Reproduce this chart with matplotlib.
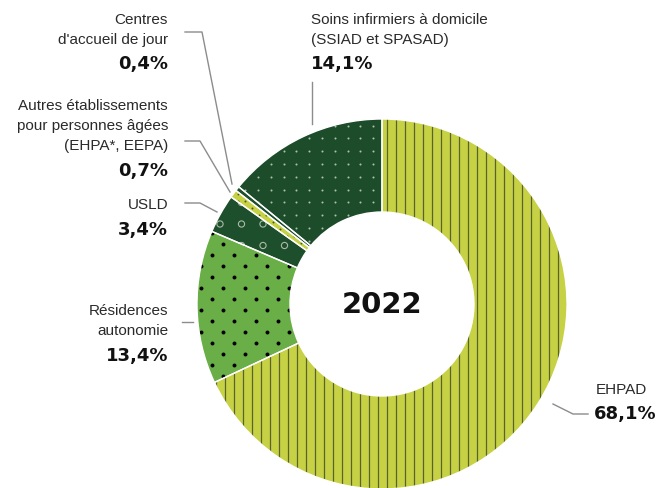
import numpy as np
import matplotlib.pyplot as plt

plt.rcParams['font.family'] = ['Liberation Sans', 'DejaVu Sans']

# slices, clockwise from 12 o'clock
categories = ["EHPAD", "Résidences autonomie", "USLD",
              "Autres établissements pour personnes âgées (EHPA*, EEPA)",
              "Centres d'accueil de jour", "Soins infirmiers à domicile (SSIAD et SPASAD)"]
values = [68.1, 13.4, 3.4, 0.7, 0.4, 14.1]
pct_labels = ["68,1%", "13,4%", "3,4%", "0,7%", "0,4%", "14,1%"]
colors = ["#c6d144", "#69ae47", "#1e4f2c", "#c6d144", "#1e4f2c", "#1c4c2a"]
year = "2022"

W, H = 663, 489
fig = plt.figure(figsize=(W / 100, H / 100), dpi=100)
ax = fig.add_axes([0, 0, 1, 1])


def py(y):
    # pixel row (top-down) -> data y
    return H - y


cx, cy, r = 382, py(305), 185
wedges, _ = ax.pie(values, startangle=90, counterclock=False, colors=colors,
                   center=(cx, cy), radius=r,
                   wedgeprops=dict(width=93, linewidth=0))


# textures, clipped to each wedge
def grid(step_x, step_y, stagger=False):
    xs, ys = [], []
    for i, yy in enumerate(np.arange(0, H + step_y, step_y)):
        off = step_x / 2 if (stagger and i % 2) else 0
        row = np.arange(off, W + step_x, step_x)
        xs.append(row)
        ys.append(np.full(row.shape, yy))
    return np.concatenate(xs), np.concatenate(ys)


def clip(artist, wedge):
    artist.set_clip_path(wedge)


# EHPAD: vertical stripes
vl = ax.vlines(np.arange(cx - 9 * 45, cx + 9 * 45, 9) + 4.5, 0, H,
               colors="#5a6330", linewidth=0.9)
clip(vl, wedges[0])

# Résidences: black dots
gx, gy = grid(22, 11, stagger=True)
sc = ax.scatter(gx + 3, gy + 2, s=8, color="black", linewidths=0)
clip(sc, wedges[1])

# USLD: small hollow circles
gx, gy = grid(21.5, 21.5)
sc = ax.scatter(gx + 5, gy + 6, s=20, facecolors="none", edgecolors="#a9bba6", linewidths=0.8)
clip(sc, wedges[2])

# Autres: dark ticks
gx, gy = grid(7, 7)
sc = ax.scatter(gx, gy, s=2, color="#4a5a25", linewidths=0)
clip(sc, wedges[3])

# SSIAD: tiny pale dots
gx, gy = grid(12.8, 12.8)
sc = ax.scatter(gx + 2, gy + 4, s=2.2, color="#aebfab", linewidths=0)
clip(sc, wedges[5])

# white separators on top
seps, _ = ax.pie(values, startangle=90, counterclock=False, colors=["none"] * len(values),
                 center=(cx, cy), radius=r,
                 wedgeprops=dict(width=93, edgecolor="white", linewidth=1.0, fill=False))
for s in seps:
    s.set_zorder(3)

big = dict(family="DejaVu Sans", fontweight="bold", color="#111111")
ax.text(cx, cy, year, ha="center", va="center", fontsize=21, **big)

# labels
lab = dict(fontsize=11, color="#2a2a2a")
pct = dict(fontsize=13, **big)
xr = 168
ax.text(xr, py(20), "Centres", ha="right", va="center", **lab)
ax.text(xr, py(40), "d'accueil de jour", ha="right", va="center", **lab)
ax.text(xr, py(64), pct_labels[4], ha="right", va="center", **pct)

ax.text(xr, py(106), "Autres établissements", ha="right", va="center", **lab)
ax.text(xr, py(126), "pour personnes âgées", ha="right", va="center", **lab)
ax.text(xr, py(146), "(EHPA*, EEPA)", ha="right", va="center", **lab)
ax.text(xr, py(171), pct_labels[3], ha="right", va="center", **pct)

ax.text(xr, py(205), "USLD", ha="right", va="center", **lab)
ax.text(xr, py(230), pct_labels[2], ha="right", va="center", **pct)

ax.text(xr, py(311), "Résidences", ha="right", va="center", **lab)
ax.text(xr, py(331), "autonomie", ha="right", va="center", **lab)
ax.text(xr, py(356), pct_labels[1], ha="right", va="center", **pct)

ax.text(311, py(20), "Soins infirmiers à domicile", ha="left", va="center", **lab)
ax.text(311, py(40), "(SSIAD et SPASAD)", ha="left", va="center", **lab)
ax.text(311, py(64), pct_labels[5], ha="left", va="center", **pct)

ax.text(596, py(390), "EHPAD", ha="left", va="center", **lab)
ax.text(594, py(414), pct_labels[0], ha="left", va="center", **pct)

# leader lines
lc = dict(color="#8c8c8c", linewidth=1.0, zorder=4)
ax.plot([185, 202, 232], [py(33), py(33), py(185)], **lc)
ax.plot([185, 200, 230], [py(142), py(142), py(193)], **lc)
ax.plot([185, 200, 217], [py(204), py(204), py(213)], **lc)
ax.plot([182, 193], [py(323), py(323)], **lc)
ax.plot([312, 312], [py(83), py(125)], **lc)
ax.plot([553, 573, 588], [py(405), py(415), py(415)], **lc)

ax.set_xlim(0, W)
ax.set_ylim(0, H)
ax.set_aspect("equal")
ax.axis("off")

fig.savefig("out.png", dpi=100)
